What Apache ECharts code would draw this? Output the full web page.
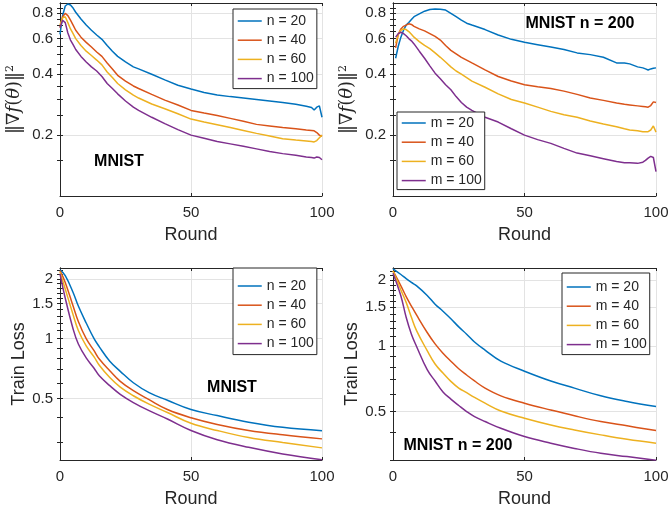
<!DOCTYPE html>
<html>
<head>
<meta charset="utf-8">
<script src="https://cdn.jsdelivr.net/npm/echarts@6/dist/echarts.min.js"></script>
<style>
  html, body { margin: 0; padding: 0; background: #fff; }
  #main { width: 669px; height: 512px; }
</style>
</head>
<body>
<div id="main"></div>
<script>
// ---- data ----
const nNames = ['n = 20', 'n = 40', 'n = 60', 'n = 100'];
const mNames = ['m = 20', 'm = 40', 'm = 60', 'm = 100'];

// top left: gradient norm, MNIST, varying n
const tlRounds = [0,1,2,3,4,5,6,8,10,12,14,16,18,20,22,25,28,30,35,40,45,50,55,60,65,70,75,80,85,90,94,96,97,98,99,100];
const tlN20  = [0.63,0.78,0.87,0.89,0.88,0.85,0.81,0.75,0.70,0.66,0.625,0.595,0.555,0.52,0.49,0.46,0.435,0.425,0.40,0.375,0.353,0.338,0.325,0.316,0.31,0.305,0.30,0.295,0.29,0.284,0.278,0.274,0.266,0.275,0.279,0.245];
const tlN40  = [0.68,0.77,0.80,0.78,0.74,0.70,0.66,0.61,0.575,0.545,0.515,0.49,0.455,0.425,0.395,0.37,0.35,0.34,0.318,0.298,0.282,0.265,0.257,0.25,0.242,0.234,0.226,0.222,0.218,0.215,0.212,0.211,0.21,0.206,0.2,0.197];
const tlN60  = [0.70,0.76,0.77,0.72,0.67,0.635,0.60,0.555,0.52,0.495,0.47,0.445,0.41,0.385,0.36,0.335,0.315,0.305,0.285,0.27,0.255,0.24,0.232,0.225,0.218,0.211,0.204,0.198,0.192,0.189,0.187,0.186,0.185,0.188,0.194,0.2];
const tlN100 = [0.68,0.74,0.72,0.64,0.59,0.56,0.53,0.49,0.46,0.435,0.415,0.39,0.36,0.34,0.32,0.295,0.275,0.265,0.245,0.228,0.213,0.20,0.193,0.186,0.181,0.176,0.171,0.166,0.162,0.159,0.156,0.155,0.154,0.156,0.155,0.151];

// top right: gradient norm, MNIST n = 200, varying m
const trRounds = [1,2,3,4,5,6,7,8,10,12,14,16,18,20,22,24,26,28,30,35,40,45,50,55,60,65,70,75,80,85,88,90,93,95,96,97,98,99,100];
const trM20  = [0.48,0.55,0.61,0.66,0.70,0.72,0.745,0.77,0.795,0.82,0.835,0.84,0.838,0.83,0.80,0.77,0.74,0.715,0.70,0.665,0.625,0.595,0.575,0.56,0.545,0.53,0.51,0.50,0.485,0.455,0.455,0.45,0.435,0.43,0.425,0.42,0.425,0.428,0.43];
const trM40  = [0.54,0.63,0.67,0.69,0.70,0.71,0.705,0.69,0.67,0.655,0.635,0.615,0.59,0.555,0.525,0.505,0.485,0.47,0.455,0.42,0.39,0.37,0.355,0.347,0.34,0.33,0.318,0.305,0.297,0.288,0.284,0.282,0.279,0.277,0.276,0.275,0.28,0.292,0.29];
const trM60  = [0.57,0.63,0.66,0.67,0.665,0.65,0.63,0.61,0.58,0.555,0.535,0.51,0.485,0.46,0.435,0.415,0.40,0.385,0.37,0.345,0.32,0.30,0.288,0.275,0.262,0.252,0.245,0.235,0.227,0.22,0.215,0.212,0.21,0.208,0.208,0.208,0.212,0.222,0.207];
const trM100 = [0.61,0.635,0.645,0.635,0.62,0.60,0.585,0.565,0.52,0.48,0.44,0.405,0.38,0.355,0.335,0.31,0.29,0.275,0.265,0.245,0.232,0.215,0.20,0.19,0.182,0.172,0.163,0.158,0.153,0.148,0.146,0.146,0.145,0.147,0.15,0.154,0.157,0.155,0.132];

// bottom left: train loss, MNIST, varying n
const blRounds = [0,2,5,7,10,13,15,19,23,28,34,41,50,60,72,85,100];
const blN20  = [2.22,2.08,1.71,1.46,1.20,1.0,0.91,0.77,0.685,0.60,0.535,0.49,0.44,0.41,0.38,0.358,0.344];
const blN40  = [2.2,1.92,1.46,1.22,1.0,0.87,0.79,0.69,0.61,0.547,0.493,0.44,0.40,0.37,0.345,0.328,0.313];
const blN60  = [2.17,1.78,1.32,1.10,0.92,0.81,0.735,0.637,0.57,0.516,0.468,0.425,0.375,0.345,0.318,0.30,0.282];
const blN100 = [2.12,1.6,1.12,0.94,0.80,0.71,0.65,0.58,0.525,0.477,0.434,0.394,0.345,0.31,0.284,0.263,0.246];

// bottom right: train loss, MNIST n = 200, varying m
const brRounds = [0,3,5,7,9,13,16,19,22,25,28,31,35,41,50,60,69,79,89,100];
const brM20  = [2.25,2.12,2.03,1.95,1.88,1.70,1.55,1.44,1.33,1.22,1.13,1.04,0.955,0.85,0.765,0.69,0.64,0.59,0.556,0.527];
const brM40  = [2.2,1.88,1.68,1.52,1.38,1.15,1.02,0.925,0.85,0.785,0.735,0.69,0.64,0.59,0.546,0.508,0.478,0.45,0.43,0.409];
const brM60  = [2.2,1.8,1.58,1.35,1.17,0.95,0.825,0.75,0.687,0.64,0.61,0.58,0.546,0.503,0.466,0.434,0.412,0.391,0.373,0.358];
const brM100 = [2.15,1.69,1.35,1.13,0.99,0.777,0.69,0.615,0.57,0.533,0.50,0.474,0.45,0.419,0.384,0.358,0.339,0.322,0.311,0.299];

// tick labels
const gradMajor = [0.2, 0.4, 0.6, 0.8];
const gradMinor = [0.15, 0.25, 0.3, 0.35, 0.45, 0.5, 0.55, 0.65, 0.7, 0.75, 0.85];
const lossMajor = [0.5, 1, 1.5, 2];
const lossMinor = [0.3, 0.4, 0.6, 0.7, 0.8, 0.9, 1.1, 1.2, 1.3, 1.4, 1.6, 1.7, 1.8, 1.9, 2.1, 2.2];

// ---- styling ----
const COLORS = ['#0072BD', '#D95319', '#EDB120', '#7E2F8E'];
const TXT = '#262626';
const GRID = '#e3e3e3';
const FONT = '"Liberation Sans", Arial, Helvetica, sans-serif';

const chart = echarts.init(document.getElementById('main'));

const grids = [
  { left: 60, top: 3, width: 262, height: 193 },
  { left: 393, top: 3, width: 263, height: 193 },
  { left: 60, top: 268, width: 262, height: 192 },
  { left: 393, top: 268, width: 263, height: 192 }
];

function xAxesFor(g) {
  const common = {
    gridIndex: g, type: 'value', min: 0, max: 100, interval: 50,
    axisLine: { show: true, lineStyle: { color: TXT, width: 1 } },
    axisTick: { show: true, inside: true, length: 3, lineStyle: { color: TXT } }
  };
  return [
    Object.assign({}, common, {
      position: 'bottom',
      name: 'Round', nameLocation: 'middle', nameGap: 30,
      nameTextStyle: { fontSize: 18, color: TXT, fontFamily: FONT },
      axisLabel: { fontSize: 15, color: TXT, fontFamily: FONT, margin: 9 },
      splitLine: { show: true, lineStyle: { color: GRID } }
    }),
    Object.assign({}, common, {
      position: 'top',
      axisLabel: { show: false },
      splitLine: { show: false }
    })
  ];
}

const gradName = '{a|\u2016\u2207}{i|f}{a|(}{i|\u03b8}{a|)\u2016}{s|2}';
const gradRich = {
  a: { fontFamily: '"DejaVu Serif", serif', fontSize: 18, color: TXT },
  i: { fontFamily: '"DejaVu Serif", serif', fontSize: 18, fontStyle: 'italic', color: TXT },
  s: { fontFamily: '"DejaVu Serif", serif', fontSize: 11, color: TXT, verticalAlign: 'top', padding: [0, 0, 8, 0] }
};

function yAxesFor(g, min, max, major, minor, name, nameGap, rich) {
  const all = major.concat(minor);
  const common = { gridIndex: g, type: 'log', logBase: 10, min: min, max: max };
  return [
    Object.assign({}, common, {
      position: 'left',
      name: name, nameLocation: 'middle', nameGap: nameGap,
      nameTextStyle: rich ? { rich: rich } : { fontSize: 18, color: TXT, fontFamily: FONT },
      axisLine: { show: true, lineStyle: { color: TXT, width: 1 } },
      axisTick: { show: true, inside: true, length: 3, customValues: all, lineStyle: { color: TXT } },
      axisLabel: { customValues: major, fontSize: 15, color: TXT, fontFamily: FONT, margin: 7,
                   formatter: function (v) { return String(+(+v).toFixed(2)); } },
      splitLine: { show: false }
    }),
    Object.assign({}, common, {
      position: 'right',
      axisLine: { show: true, lineStyle: { color: TXT, width: 1 } },
      axisTick: { show: true, inside: true, length: 3, customValues: all, lineStyle: { color: TXT } },
      axisLabel: { show: false },
      splitLine: { show: false }
    }),
    Object.assign({}, common, {
      position: 'left',
      axisLine: { show: false },
      axisTick: { show: false, customValues: major },
      axisLabel: { show: false },
      splitLine: { show: true, lineStyle: { color: GRID } }
    })
  ];
}

function pairs(xs, ys) {
  return xs.map(function (x, i) { return [x, ys[i]]; });
}

function seriesFor(g, names, rounds, lists, smooth) {
  return lists.map(function (vals, k) {
    return {
      type: 'line', name: names[k],
      xAxisIndex: g * 2, yAxisIndex: g * 3,
      data: pairs(rounds, vals),
      symbol: 'none', smooth: smooth ? 0.4 : false,
      lineStyle: { color: COLORS[k], width: 1.5 },
      itemStyle: { color: COLORS[k] },
      emphasis: { disabled: true },
      animation: false, clip: true
    };
  });
}

function legendFor(names, left, top, padding) {
  return {
    data: names, left: left, top: top, orient: 'vertical',
    itemWidth: 24, itemHeight: 14, itemGap: 5.2, padding: padding,
    backgroundColor: '#fff', borderColor: TXT, borderWidth: 1, borderRadius: 0,
    itemStyle: { opacity: 0 },
    lineStyle: { width: 1.5 },
    textStyle: { fontSize: 14, color: TXT, fontFamily: FONT },
    selectedMode: false
  };
}

function label(x, y, text) {
  return {
    type: 'text', x: x, y: y, z: 10,
    style: { text: text, fill: '#000', font: 'bold 16px ' + FONT, align: 'center', verticalAlign: 'middle' }
  };
}

const option = {
  animation: false,
  backgroundColor: '#fff',
  grid: grids.map(function (g) { return Object.assign({ containLabel: false, outerBoundsMode: 'none' }, g); }),
  xAxis: [].concat(xAxesFor(0), xAxesFor(1), xAxesFor(2), xAxesFor(3)),
  yAxis: [].concat(
    yAxesFor(0, 0.1, 0.9, gradMajor, gradMinor, gradName, 36, gradRich),
    yAxesFor(1, 0.1, 0.9, gradMajor, gradMinor, gradName, 36, gradRich),
    yAxesFor(2, 0.245, 2.27, lossMajor, lossMinor, 'Train Loss', 31, null),
    yAxesFor(3, 0.3, 2.27, lossMajor, lossMinor, 'Train Loss', 31, null)
  ),
  legend: [
    legendFor(nNames, 233, 9, [5, 3, 3, 4]),
    legendFor(mNames, 397, 112, [4, 3, 2, 4]),
    legendFor(nNames, 233, 268, [11, 3, 4, 4]),
    legendFor(mNames, 562, 273, [7, 3, 3, 4])
  ],
  series: [].concat(
    seriesFor(0, nNames, tlRounds, [tlN20, tlN40, tlN60, tlN100], false),
    seriesFor(1, mNames, trRounds, [trM20, trM40, trM60, trM100], false),
    seriesFor(2, nNames, blRounds, [blN20, blN40, blN60, blN100], true),
    seriesFor(3, mNames, brRounds, [brM20, brM40, brM60, brM100], true)
  ),
  graphic: [
    label(119, 162, 'MNIST'),
    label(580, 24, 'MNIST n = 200'),
    label(232, 388, 'MNIST'),
    label(458, 446, 'MNIST n = 200')
  ]
};

chart.setOption(option);
</script>
</body>
</html>
